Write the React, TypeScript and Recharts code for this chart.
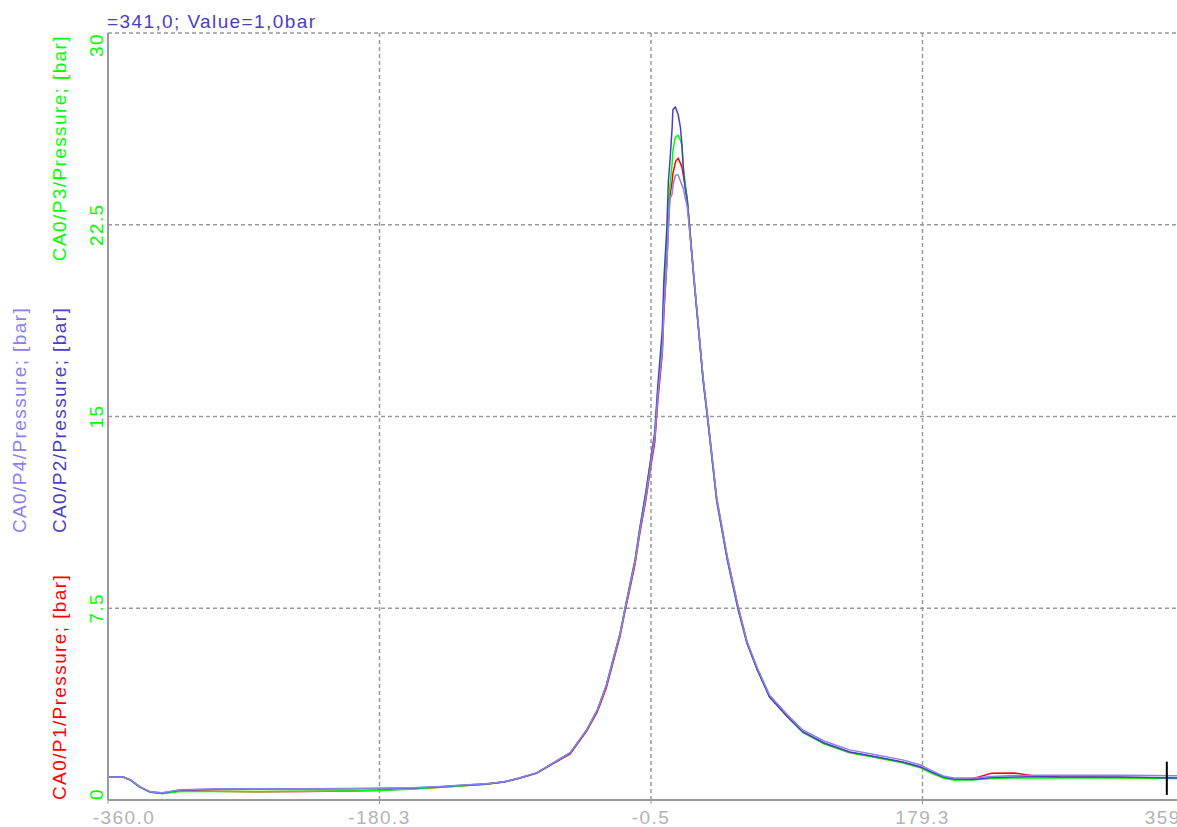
import React from 'react';
import { LineChart, Line, XAxis, YAxis, CartesianGrid, ReferenceLine } from 'recharts';

// crank angle [deg]
const angle = [
  -360, -350, -345, -339, -332, -324, -312, -290, -260, -230,
  -200, -180, -158, -140, -125, -110, -98, -88, -76, -65,
  -54, -43, -36, -30, -26, -21, -18, -14, -11, -8,
  -4, -1, 2, 4, 7, 8, 10, 11, 12, 13.5,
  14, 15.5, 16, 17.5, 19, 20, 21, 22, 23.5, 25,
  28, 31, 34, 37, 43, 50, 57, 63, 70, 78,
  90, 100, 114, 131, 149, 166, 178, 185, 193, 200,
  212, 225, 240, 255, 270, 290, 310, 330, 345, 359,
];

const p1 = [
  0.90, 0.90, 0.78, 0.51, 0.31, 0.25, 0.36, 0.34, 0.32, 0.33,
  0.35, 0.38, 0.44, 0.50, 0.56, 0.62, 0.70, 0.84, 1.05, 1.43,
  1.80, 2.70, 3.45, 4.40, 5.30, 6.40, 7.30, 8.40, 9.25, 10.4,
  11.7, 12.9, 14.0, 15.6, 17.5, 19.0, 21.0, 22.5, 23.6, 24.2,
  24.5, 24.9, 25.0, 25.1, 24.9, 24.75, 24.4, 24.05, 23.5, 22.5,
  20.4, 18.4, 16.5, 15.0, 11.8, 9.5, 7.6, 6.2, 5.1, 4.05,
  3.25, 2.66, 2.22, 1.87, 1.67, 1.48, 1.28, 1.08, 0.88, 0.80,
  0.82, 1.05, 1.06, 0.93, 0.90, 0.89, 0.88, 0.87, 0.85, 0.85,
];

const p2 = [
  0.90, 0.90, 0.78, 0.51, 0.31, 0.27, 0.39, 0.42, 0.43, 0.43,
  0.44, 0.45, 0.47, 0.52, 0.58, 0.63, 0.70, 0.85, 1.06, 1.45,
  1.84, 2.74, 3.52, 4.50, 5.40, 6.50, 7.40, 8.55, 9.40, 10.6,
  12.0, 13.2, 14.4, 16.2, 18.4, 20.3, 22.4, 24.2, 24.95, 26.3,
  27.0, 27.1, 27.05, 26.8, 26.3, 25.6, 24.6, 24.0, 23.4, 22.4,
  20.3, 18.4, 16.4, 14.9, 11.7, 9.4, 7.5, 6.14, 5.08, 4.03,
  3.25, 2.66, 2.23, 1.88, 1.68, 1.49, 1.29, 1.10, 0.90, 0.82,
  0.80, 0.88, 0.90, 0.92, 0.90, 0.90, 0.90, 0.88, 0.86, 0.86,
];

const p3 = [
  0.90, 0.90, 0.77, 0.50, 0.30, 0.25, 0.33, 0.33, 0.33, 0.34,
  0.35, 0.37, 0.43, 0.50, 0.56, 0.62, 0.70, 0.85, 1.06, 1.45,
  1.84, 2.74, 3.52, 4.50, 5.40, 6.50, 7.40, 8.55, 9.40, 10.6,
  12.0, 13.2, 14.3, 16.0, 18.0, 19.8, 21.8, 23.3, 24.0, 24.9,
  25.4, 25.9, 25.95, 26.0, 25.8, 25.6, 24.7, 24.2, 23.5, 22.4,
  20.3, 18.4, 16.4, 14.9, 11.7, 9.4, 7.5, 6.14, 5.08, 4.03,
  3.25, 2.64, 2.20, 1.85, 1.65, 1.46, 1.26, 1.05, 0.86, 0.78,
  0.78, 0.84, 0.86, 0.86, 0.86, 0.86, 0.86, 0.85, 0.84, 0.84,
];

const p4 = [
  0.90, 0.90, 0.79, 0.52, 0.32, 0.28, 0.40, 0.43, 0.44, 0.44,
  0.45, 0.46, 0.48, 0.53, 0.59, 0.64, 0.71, 0.86, 1.07, 1.46,
  1.85, 2.75, 3.53, 4.50, 5.40, 6.50, 7.40, 8.50, 9.35, 10.5,
  11.8, 13.0, 14.2, 15.8, 17.6, 19.2, 21.0, 22.3, 23.5, 23.7,
  24.0, 24.4, 24.45, 24.45, 24.2, 24.05, 23.9, 23.6, 23.2, 22.3,
  20.4, 18.5, 16.5, 15.0, 11.8, 9.5, 7.6, 6.2, 5.15, 4.1,
  3.32, 2.74, 2.31, 1.96, 1.76, 1.57, 1.37, 1.16, 0.94, 0.86,
  0.86, 0.92, 0.96, 0.97, 0.97, 0.97, 0.97, 0.96, 0.95, 0.95,
];

const xTicks = [-360, -180.25, -0.5, 179.25, 359];
const xTickLabels = ['-360.0', '-180.3', '-0.5', '179.3', '359.0'];
const yTicks = [0, 7.5, 15, 22.5, 30];
const yTickLabels = ['0', '7.5', '15', '22.5', '30'];

const cursorAngle = 341;

const RED = '#ff0000';
const GREEN = '#00ff00';
const DARK = '#4a3ec4';
const LIGHT = '#8a80f2';
const FONT = '"Liberation Sans", Arial, sans-serif';
const FS = 19;
const LS = 1.4;

const data = angle.map((a, i) => ({ angle: a, p1: p1[i], p2: p2[i], p3: p3[i], p4: p4[i] }));

const XTick = (props: any) => {
  const { x, index } = props;
  const shift = index === 0 ? 16 : index === xTickLabels.length - 1 ? -22 : 0;
  return (
    <text x={x + shift} y={824} textAnchor="middle" fill="#b4b4b4" fontSize={FS} fontFamily={FONT} letterSpacing={LS}>
      {xTickLabels[index]}
    </text>
  );
};

const YTick = (props: any) => {
  const { y, index } = props;
  const anchor = index === 0 ? 'start' : index === yTickLabels.length - 1 ? 'end' : 'middle';
  const bx = 103;
  return (
    <text x={bx} y={y} transform={`rotate(-90, ${bx}, ${y})`} textAnchor={anchor} fill={GREEN} fontSize={FS} fontFamily={FONT} letterSpacing={LS}>
      {yTickLabels[index]}
    </text>
  );
};

const VText = ({ x, y, anchor, color, children }: any) => (
  <text x={x} y={y} transform={`rotate(-90, ${x}, ${y})`} textAnchor={anchor} fill={color} fontSize={FS} fontFamily={FONT} letterSpacing={LS}>
    {children}
  </text>
);

export default function App() {
  return (
    <div style={{ position: 'fixed', left: 0, top: 0, width: 1177, height: 827, overflow: 'hidden', background: '#fff' }}>
      <LineChart width={1200} height={827} data={data} margin={{ top: 33, right: 6, bottom: 0, left: 0 }}>
        <CartesianGrid stroke="#9a9a9a" strokeDasharray="4 3" strokeWidth={1.5} />
        <XAxis
          dataKey="angle"
          type="number"
          domain={[-360, 359]}
          ticks={xTicks}
          interval={0}
          allowDataOverflow
          height={27}
          tick={XTick}
          tickSize={4}
          tickLine={{ stroke: '#9a9a9a' }}
          axisLine={{ stroke: '#9a9a9a', strokeWidth: 2 }}
        />
        <YAxis
          type="number"
          domain={[0, 30]}
          ticks={yTicks}
          interval={0}
          allowDataOverflow
          width={108}
          tick={YTick}
          tickLine={false}
          axisLine={{ stroke: '#9a9a9a', strokeWidth: 2 }}
        />
        <Line dataKey="p1" stroke={RED} strokeWidth={1.5} dot={false} isAnimationActive={false} type="linear" />
        <Line dataKey="p3" stroke={GREEN} strokeWidth={1.5} dot={false} isAnimationActive={false} type="linear" />
        <Line dataKey="p2" stroke={DARK} strokeWidth={1.5} dot={false} isAnimationActive={false} type="linear" />
        <Line dataKey="p4" stroke={LIGHT} strokeWidth={1.5} dot={false} isAnimationActive={false} type="linear" />
        <ReferenceLine
          segment={[{ x: cursorAngle, y: 0.2 }, { x: cursorAngle, y: 1.5 }]}
          stroke="#000"
          strokeWidth={2}
        />
      </LineChart>
      <svg width={1177} height={827} style={{ position: 'absolute', left: 0, top: 0, pointerEvents: 'none' }}>
        <text x={107} y={28} fill={DARK} fontSize={FS} fontFamily={FONT} letterSpacing={LS}>
          =341,0; Value=1,0bar
        </text>
        <VText x={66} y={800} anchor="start" color={RED}>CA0/P1/Pressure; [bar]</VText>
        <VText x={66} y={35} anchor="end" color={GREEN}>CA0/P3/Pressure; [bar]</VText>
        <VText x={66} y={420} anchor="middle" color={DARK}>CA0/P2/Pressure; [bar]</VText>
        <VText x={26} y={420} anchor="middle" color={LIGHT}>CA0/P4/Pressure; [bar]</VText>
      </svg>
    </div>
  );
}
